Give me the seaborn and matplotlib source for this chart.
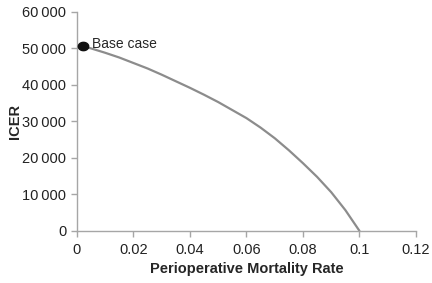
import numpy as np
import pandas as pd
import matplotlib
matplotlib.use("Agg")
import matplotlib.pyplot as plt
from matplotlib.ticker import FuncFormatter, MultipleLocator
import seaborn as sns

# ── data ─────────────────────────────────────────────────
mortality = [0.002, 0.005, 0.01, 0.015, 0.02, 0.025, 0.03, 0.035, 0.04, 0.045,
             0.05, 0.055, 0.06, 0.065, 0.07, 0.075, 0.08, 0.085, 0.09, 0.095, 0.1]
icer = [50600, 50000, 48800, 47500, 46000, 44500, 42800, 41000, 39200, 37300,
        35300, 33100, 30900, 28300, 25400, 22100, 18550, 14800, 10600, 5700, 0]
base_x = [0.002]
base_y = [50600]

df = pd.DataFrame({"mortality": mortality, "icer": icer})

sns.set_style("white")
plt.rcParams['font.family'] = ['Liberation Sans', 'DejaVu Sans']

fig = plt.figure(figsize=(4.32, 2.83), dpi=100)
ax = fig.add_axes([0.178, 0.184, 0.785, 0.774])

sns.lineplot(data=df, x="mortality", y="icer", ax=ax, color="#8c8c8c", linewidth=1.6,
             solid_capstyle="round", solid_joinstyle="round")

# slightly flattened dot, like the reference marker
t = np.linspace(0, 2 * np.pi, 40)
ellipse = np.column_stack([1.25 * np.cos(t), np.sin(t)])
ax.plot(base_x, base_y, marker=ellipse, markersize=7.5, color="#111111", linestyle="none",
        clip_on=False, zorder=5)
ax.text(base_x[0] + 0.0035, base_y[0] + 600, "Base case", fontsize=10, va="center", ha="left")

ax.set_xlim(0, 0.12)
ax.set_ylim(0, 60000)
ax.xaxis.set_major_locator(MultipleLocator(0.02))
ax.yaxis.set_major_locator(MultipleLocator(10000))
ax.xaxis.set_major_formatter(FuncFormatter(lambda v, p: f"{v:.2f}".rstrip("0").rstrip(".") if v else "0"))
ax.yaxis.set_major_formatter(FuncFormatter(lambda v, p: f"{int(v):,}".replace(",", "\u2009")))

for side in ["top", "right"]:
    ax.spines[side].set_visible(False)
for side in ["left", "bottom"]:
    ax.spines[side].set_color("#a6a6a6")
    ax.spines[side].set_linewidth(1.0)
ax.tick_params(axis="both", which="major", direction="out", length=4, width=1.0,
               color="#a6a6a6", labelsize=10.5, labelcolor="#222222", left=True, bottom=True)
ax.tick_params(axis="x", pad=5)

ax.set_xlabel("Perioperative Mortality Rate", fontsize=10.5, fontweight="bold", labelpad=3)
ax.set_ylabel("ICER", fontsize=10.5, fontweight="bold", labelpad=0)

fig.savefig("out.png", dpi=100)
